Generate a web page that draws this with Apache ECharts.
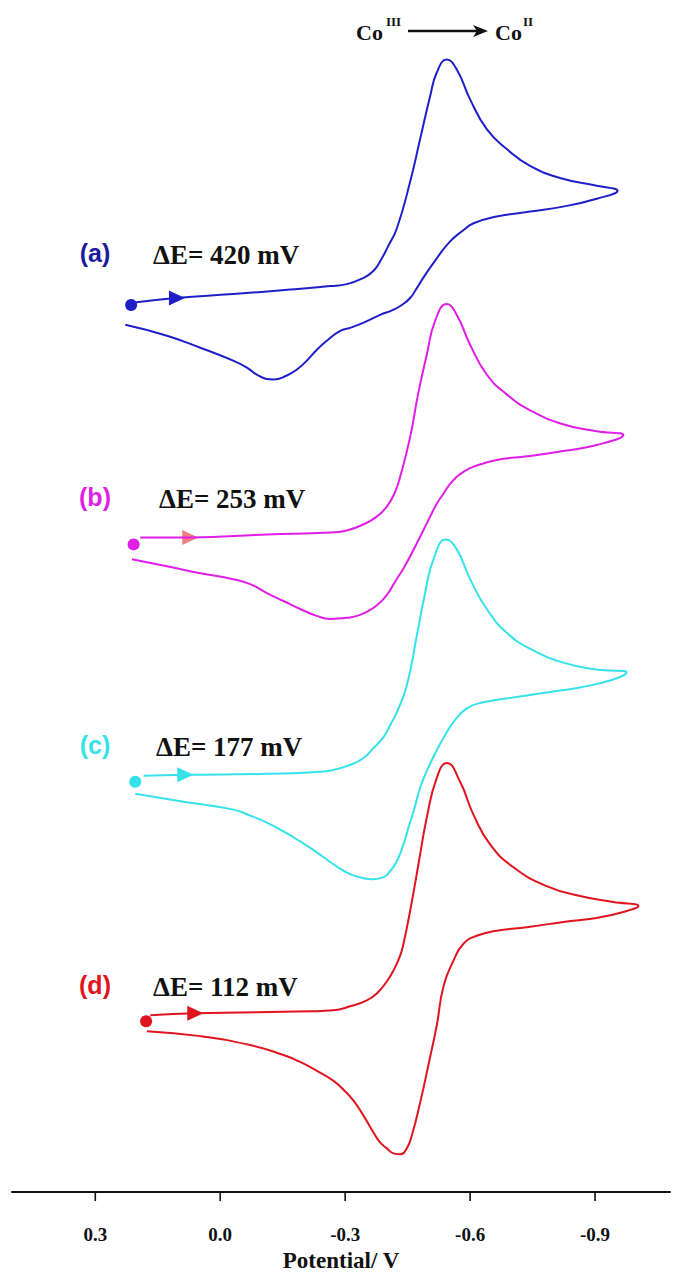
<!DOCTYPE html>
<html>
<head>
<meta charset="utf-8">
<script src="https://cdn.jsdelivr.net/npm/echarts@6/dist/echarts.min.js"></script>
<style>
  html, body { margin: 0; padding: 0; background: #fff; }
  #cv { width: 673px; height: 1277px; }
</style>
</head>
<body>
<div id="cv"></div>
<script>
// potential (V) and current (a.u., curves offset vertically)
const potA = [0.216, 0.106, -0.031, -0.168, -0.264, -0.304, -0.343, -0.367, -0.384, -0.403, -0.424, -0.456, -0.48, -0.504, -0.52, -0.544, -0.568, -0.6, -0.64, -0.688, -0.744, -0.823, -0.904, -0.954,
  -0.904, -0.823, -0.744, -0.664, -0.607, -0.583, -0.552, -0.52, -0.487, -0.472, -0.456, -0.436, -0.415, -0.384, -0.343, -0.312, -0.288, -0.256, -0.232, -0.208, -0.184, -0.16, -0.128, -0.096, -0.064, -0.031, 0.048, 0.128, 0.228]
const curA = [89.5, 90.0, 90.4, 90.85, 91.2, 91.4, 92.0, 92.7, 93.7, 95.2, 97.0, 101.7, 106.0, 110.3, 112.7, 114.0, 113.0, 110.0, 107.0, 105.0, 103.3, 102.0, 101.3, 100.8,
  100.0, 99.2, 98.7, 98.2, 97.5, 96.8, 95.7, 94.0, 92.0, 91.0, 90.0, 89.3, 88.8, 88.3, 87.5, 87.0, 86.7, 85.7, 84.8, 83.7, 82.8, 82.2, 81.8, 82.1, 83.0, 83.7, 85.0, 86.2, 87.3]

const potB = [0.192, 0.072, -0.112, -0.264, -0.304, -0.343, -0.376, -0.4, -0.42, -0.432, -0.456, -0.475, -0.496, -0.516, -0.544, -0.568, -0.6, -0.64, -0.688, -0.744, -0.823, -0.904, -0.968,
  -0.904, -0.823, -0.744, -0.664, -0.607, -0.584, -0.568, -0.552, -0.536, -0.52, -0.504, -0.472, -0.456, -0.439, -0.422, -0.408, -0.394, -0.377, -0.36, -0.336, -0.312, -0.264, -0.232, -0.192, -0.152, -0.112, -0.072, -0.031, 0.048, 0.128, 0.212]
const curB = [65.9, 65.9, 66.2, 66.4, 66.6, 67.2, 68.0, 69.0, 70.5, 72.0, 76.0, 80.3, 84.3, 87.7, 89.4, 88.3, 85.3, 82.3, 80.3, 78.7, 77.3, 76.6, 76.2,
  75.2, 74.6, 74.1, 73.7, 73.0, 72.5, 72.0, 71.3, 70.3, 69.3, 68.0, 65.3, 64.0, 62.7, 61.6, 60.6, 59.8, 59.1, 58.6, 58.1, 57.85, 57.7, 58.0, 58.7, 59.5, 60.3, 61.2, 61.7, 62.3, 63.0, 63.7]

const potC = [0.184, 0.084, -0.112, -0.232, -0.272, -0.312, -0.344, -0.368, -0.392, -0.408, -0.424, -0.448, -0.472, -0.492, -0.512, -0.542, -0.568, -0.6, -0.64, -0.688, -0.744, -0.824, -0.904, -0.976,
  -0.944, -0.864, -0.784, -0.704, -0.632, -0.592, -0.56, -0.536, -0.514, -0.492, -0.48, -0.464, -0.452, -0.44, -0.424, -0.408, -0.392, -0.368, -0.344, -0.312, -0.272, -0.232, -0.192, -0.152, -0.112, -0.072, -0.032, 0.088, 0.204]
const curC = [41.9, 42.0, 42.1, 42.3, 42.5, 43.0, 43.7, 44.7, 45.8, 47.0, 48.3, 51.0, 56.0, 60.3, 63.7, 65.7, 64.7, 61.7, 58.7, 56.3, 54.7, 53.3, 52.6, 52.3,
  51.6, 50.8, 50.3, 49.8, 49.3, 48.7, 47.3, 45.7, 44.0, 42.0, 40.7, 38.3, 36.7, 35.0, 33.3, 32.3, 31.7, 31.5, 31.6, 32.0, 33.0, 34.2, 35.3, 36.3, 37.2, 37.9, 38.5, 39.3, 40.1]

const potD = [0.168, 0.06, -0.216, -0.272, -0.312, -0.352, -0.376, -0.4, -0.416, -0.432, -0.44, -0.456, -0.476, -0.496, -0.52, -0.544, -0.576, -0.608, -0.648, -0.704, -0.784, -0.864, -0.944, -1.004,
  -0.968, -0.904, -0.824, -0.744, -0.664, -0.616, -0.584, -0.56, -0.536, -0.52, -0.504, -0.48, -0.46, -0.448, -0.432, -0.416, -0.4, -0.384, -0.368, -0.344, -0.32, -0.296, -0.272, -0.232, -0.192, -0.152, -0.072, 0.048, 0.176]
const curD = [17.8, 18.0, 18.2, 18.3, 18.7, 19.3, 20.0, 21.2, 22.3, 23.8, 25.0, 28.3, 33.0, 37.7, 41.7, 43.2, 41.3, 38.0, 35.0, 32.7, 30.8, 29.8, 29.2, 28.8,
  28.2, 27.6, 27.2, 26.7, 26.3, 25.8, 25.0, 23.3, 20.7, 16.8, 13.6, 9.0, 5.7, 4.4, 3.8, 3.9, 4.4, 5.0, 6.0, 7.7, 9.2, 10.3, 11.2, 12.2, 13.1, 13.8, 14.8, 15.7, 16.2]

// start points and scan direction arrows
const startPts = [[0.214, 89.3], [0.208, 65.2], [0.204, 41.3], [0.178, 17.2]]
const arrowPts = [[0.104, 90.0], [0.072, 65.9], [0.084, 42.0], [0.06, 18.0]]

const labels = ['(a)', '(b)', '(c)', '(d)']
const deltaE = ['ΔE= 420 mV', 'ΔE= 253 mV', 'ΔE= 177 mV', 'ΔE= 112 mV']
const tickValues = [0.3, 0.0, -0.3, -0.6, -0.9]

const lineColors = ['#1f1fc8', '#e01ee6', '#36e2ea', '#e0141e']
const labelColors = ['#1a1a9e', '#e01ee6', '#36e2ea', '#e0141e']
const arrowColors = ['#1f1fc8', '#f08080', '#36e2ea', '#e0141e']
const labelY = [253, 497, 745, 985]
const deltaX = [153, 159, 156, 153]

const zip = (xs, ys) => xs.map((x, i) => [x, ys[i]])
const curves = [zip(potA, curA), zip(potB, curB), zip(potC, curC), zip(potD, curD)]

const serif = '"Liberation Serif", "DejaVu Serif", serif'
const sans = '"Liberation Sans", Arial, sans-serif'

const series = []
curves.forEach((data, k) => {
  series.push({
    type: 'line',
    data: data,
    smooth: 0.5,
    showSymbol: false,
    lineStyle: { color: lineColors[k], width: 2 },
    animation: false
  })
  series.push({
    type: 'scatter',
    data: [startPts[k]],
    symbol: 'circle',
    symbolSize: 12,
    itemStyle: { color: lineColors[k], opacity: 1 },
    animation: false
  })
  series.push({
    type: 'scatter',
    data: [arrowPts[k]],
    symbol: 'triangle',
    symbolSize: [15, 16],
    symbolRotate: -90,
    itemStyle: { color: arrowColors[k], opacity: 1 },
    animation: false
  })
})
// tick marks below the axis line, placed through the x scale
series.push({
  type: 'scatter',
  data: tickValues.map(v => [v, -0.45]),
  symbol: 'rect',
  symbolSize: [1.6, 9],
  clip: false,
  itemStyle: { color: '#111', opacity: 1 },
  animation: false,
  silent: true
})

const graphic = []
labels.forEach((t, k) => {
  graphic.push({
    type: 'text', x: 95, y: labelY[k],
    style: { text: t, font: 'bold 25px ' + sans, fill: labelColors[k], align: 'center', verticalAlign: 'middle' }
  })
  graphic.push({
    type: 'text', x: deltaX[k], y: labelY[k] + 2,
    style: { text: deltaE[k], font: 'bold 27px ' + serif, fill: '#111', align: 'left', verticalAlign: 'middle' }
  })
})
// Co(III) -> Co(II) header
graphic.push(
  { type: 'text', x: 356, y: 32, style: { text: 'Co', font: 'bold 22px ' + serif, fill: '#111', verticalAlign: 'middle' } },
  { type: 'text', x: 386, y: 21, style: { text: 'III', font: 'bold 13px ' + serif, fill: '#111', verticalAlign: 'middle' } },
  { type: 'line', shape: { x1: 408, y1: 31, x2: 482, y2: 31 }, style: { stroke: '#111', lineWidth: 2.5 } },
  { type: 'polygon', shape: { points: [[473, 25], [488, 31], [473, 37], [477, 31]] }, style: { fill: '#111' } },
  { type: 'text', x: 495, y: 32, style: { text: 'Co', font: 'bold 22px ' + serif, fill: '#111', verticalAlign: 'middle' } },
  { type: 'text', x: 523, y: 21, style: { text: 'II', font: 'bold 13px ' + serif, fill: '#111', verticalAlign: 'middle' } }
)

const chart = echarts.init(document.getElementById('cv'), null, { renderer: 'svg' })
chart.setOption({
  backgroundColor: '#fff',
  animation: false,
  grid: { left: 12, right: 3, top: 0, bottom: 77 },
  xAxis: {
    type: 'value',
    inverse: true,
    min: -1.08,
    max: 0.5,
    splitNumber: 5,
    name: 'Potential/ V',
    nameLocation: 'middle',
    nameGap: 53,
    nameTextStyle: { fontFamily: serif, fontWeight: 'bold', fontSize: 23, color: '#111' },
    axisLine: { lineStyle: { color: '#111', width: 2 } },
    axisTick: { show: false },
    axisLabel: {
      margin: 33,
      showMinLabel: false,
      showMaxLabel: false,
      fontFamily: serif, fontWeight: 'bold', fontSize: 19, color: '#111',
      formatter: v => v.toFixed(1)
    },
    splitLine: { show: false }
  },
  yAxis: {
    type: 'value', min: 0, max: 120, show: false
  },
  series: series,
  graphic: graphic
})
</script>
</body>
</html>
